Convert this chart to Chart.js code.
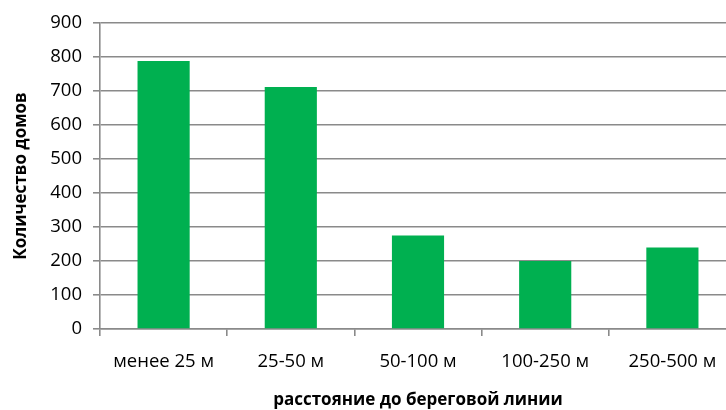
<!DOCTYPE html>
<html>
<head>
<meta charset="utf-8">
<script src="https://cdn.jsdelivr.net/npm/chart.js@4.4.1/dist/chart.umd.min.js"></script>
<style>
  html, body { margin: 0; padding: 0; background: #fff; overflow: hidden; }
  #wrap { width: 736px; height: 410px; }
</style>
</head>
<body>
<div id="wrap"><canvas id="housesChart"></canvas></div>
<script>
const categories = ['менее 25 м', '25-50 м', '50-100 м', '100-250 м', '250-500 м'];
const houses = [788, 712, 275, 200, 240];
const yTicks = [0, 100, 200, 300, 400, 500, 600, 700, 800, 900];

const gridColor = '#8a8a8a';
const fontFamily = "'Open Sans', 'Noto Sans', sans-serif";

new Chart(document.getElementById('housesChart').getContext('2d'), {
  type: 'bar',
  data: {
    labels: categories,
    datasets: [{
      label: 'Количество домов',
      data: houses,
      backgroundColor: '#00b050',
      categoryPercentage: 1,
      barPercentage: 0.41
    }]
  },
  options: {
    responsive: true,
    maintainAspectRatio: false,
    animation: false,
    layout: { padding: { top: 23, left: 0, right: 0, bottom: 0 } },
    plugins: {
      legend: { display: false },
      tooltip: { enabled: false }
    },
    scales: {
      x: {
        grid: {
          offset: true,
          drawOnChartArea: false,
          color: gridColor,
          lineWidth: 1.6,
          tickLength: 7
        },
        border: { color: gridColor, width: 1.6 },
        ticks: {
          color: '#000',
          padding: 15,
          maxRotation: 0,
          font: { family: fontFamily, size: 18.5 }
        },
        title: {
          display: true,
          text: 'расстояние до береговой линии',
          color: '#000',
          padding: { top: 0, bottom: 0 },
          font: { family: fontFamily, size: 17, weight: 'bold' }
        },
        afterFit: scale => { scale.height = 81; }
      },
      y: {
        min: 0,
        max: 900,
        afterBuildTicks: scale => { scale.ticks = yTicks.map(v => ({ value: v })); },
        grid: {
          color: gridColor,
          lineWidth: 1.6,
          tickLength: 7
        },
        border: { color: gridColor, width: 1.6 },
        ticks: {
          color: '#000',
          padding: 11,
          font: { family: fontFamily, size: 18.5 }
        },
        title: {
          display: true,
          text: 'Количество домов',
          color: '#000',
          padding: { top: 11, bottom: 0 },
          font: { family: fontFamily, size: 17, weight: 'bold' }
        },
        afterFit: scale => { scale.width = 100; }
      }
    }
  }
});
</script>
</body>
</html>
